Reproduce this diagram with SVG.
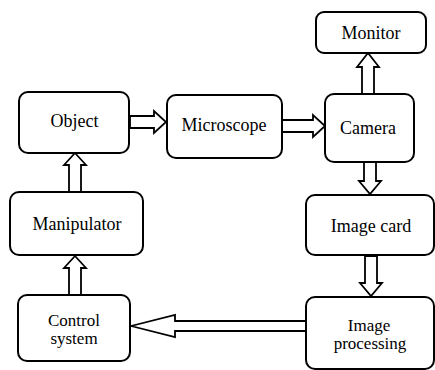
<svg xmlns="http://www.w3.org/2000/svg" width="435" height="370" viewBox="0 0 435 370">
<style>
.box{fill:#fff;stroke:#000;stroke-width:2}
.arr{fill:#fff;stroke:#000;stroke-width:1.8;stroke-linejoin:miter}
text{font-family:"Liberation Serif","Times New Roman",serif;font-size:18px;fill:#000;text-anchor:middle}
text.two{font-size:17px}
</style>
<rect width="435" height="370" fill="#fff"/>
<g id="connectors">
<polygon class="arr" points="130,116 154,116 154,111 166,122 154,133 154,128 130,128"/>
<polygon class="arr" points="282,120 313,120 313,115 325,126 313,137 313,132 282,132"/>
<polygon class="arr" points="362,94 362,67 357,67 368,53 379,67 374,67 374,94"/>
<polygon class="arr" points="364,162 364,181 359,181 370,194 381,181 376,181 376,162"/>
<polygon class="arr" points="365,256 365,283 360,283 371,296 382,283 377,283 377,256"/>
<polygon class="arr" points="306,321 175,321 175,315 131,326 175,337 175,331 306,331"/>
<polygon class="arr" points="69,295 69,268 64,268 75,256 86,268 81,268 81,295"/>
<polygon class="arr" points="69,192 69,165 64,165 75,153 86,165 81,165 81,192"/>
</g>
<g id="object"><rect class="box" x="19" y="92" width="110" height="61" rx="9"/><text x="74.5" y="127">Object</text></g>
<g id="microscope"><rect class="box" x="167" y="95" width="115" height="63" rx="9"/><text x="224" y="131">Microscope</text></g>
<g id="camera"><rect class="box" x="325" y="94" width="89" height="68" rx="9"/><text x="368" y="134">Camera</text></g>
<g id="monitor"><rect class="box" x="316" y="12" width="110" height="41" rx="8"/><text x="371" y="39">Monitor</text></g>
<g id="manipulator"><rect class="box" x="10" y="192" width="133" height="63" rx="9"/><text x="77" y="230">Manipulator</text></g>
<g id="imagecard"><rect class="box" x="306" y="195" width="128" height="60" rx="9"/><text x="371" y="232">Image card</text></g>
<g id="controlsystem"><rect class="box" x="18" y="295" width="112" height="66" rx="9"/><text class="two" x="74" y="326">Control</text><text class="two" x="74" y="344">system</text></g>
<g id="imageprocessing"><rect class="box" x="306" y="297" width="128" height="72" rx="9"/><text class="two" x="369" y="331">Image</text><text class="two" x="370" y="349">processing</text></g>
</svg>
